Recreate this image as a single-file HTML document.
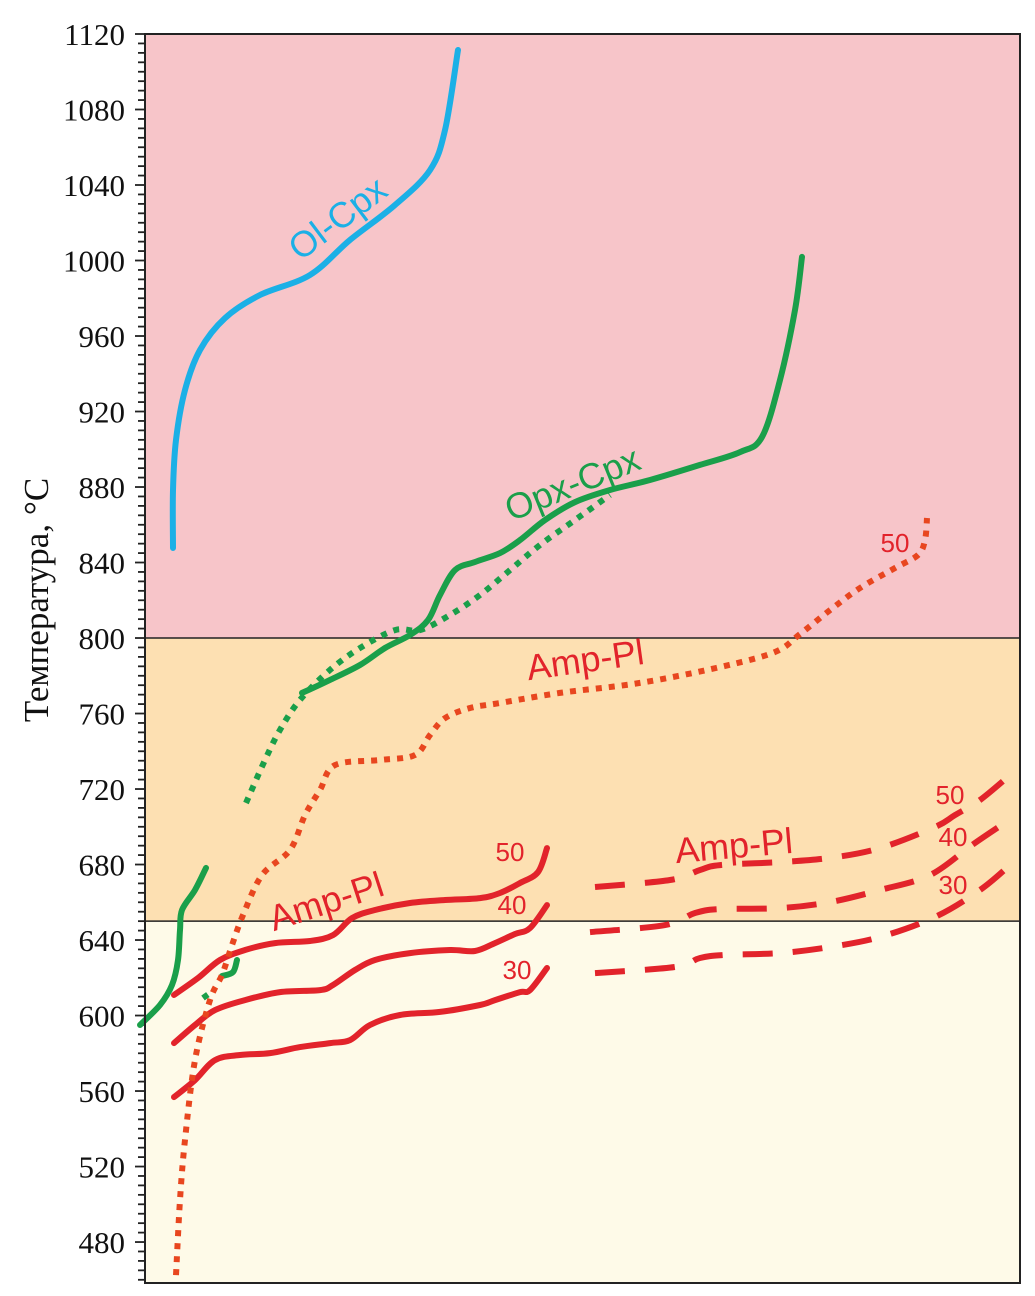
<!DOCTYPE html>
<html><head><meta charset="utf-8"><style>
html,body{margin:0;padding:0;background:#fff;}
svg{display:block;}
</style></head><body>
<svg id="chart" width="1035" height="1296" xmlns="http://www.w3.org/2000/svg"></svg>
<script>
// Y ticks
const yTickValues = [480,520,560,600,640,680,720,760,800,840,880,920,960,1000,1040,1080,1120];
// Field bands (temperature ranges)
const bandLow = [458, 650, 800];
const bandHigh = [650, 800, 1120];
// Series: x (arbitrary position units), T (°C)
const olCpxX = [28,28,31,40,55,80,115,165,205,250,285,300,313];
const olCpxT = [847.7,878.4,904.9,931.4,952.6,969.5,981.7,992.3,1010.9,1029.4,1047.9,1069.1,1111.5];
const opxCpxX = [157,185,215,240,265,283,295,310,330,355,375,400,430,465,505,555,595,617,635,650,657];
const opxCpxT = [770.9,777.8,785.7,794.7,801.6,809.5,822.8,836.0,840.3,845.0,851.9,862.5,872.0,878.4,883.7,891.7,898.5,906.5,936.7,973.8,1001.9];
const opxDotX = [101,120,135,155,185,215,250,275,305,335,365,395,430,465];
const opxDotT = [712.6,735.4,751.3,767.2,783.1,794.7,804.2,804.2,812.2,822.8,836.0,849.3,862.5,875.8];
const greenLowX = [-5,15,27,33,35,37,50,61];
const greenLowT = [595.0,605.6,616.2,629.4,645.3,655.9,666.5,678.2];
const greenHookX = [77,88,92];
const greenHookT = [620.9,623.0,629.4];
const greenDotsX = [58,69];
const greenDotsT = [609.3,613.5];
const ampDotX = [31,35,40,50,65,77,87,98,117,145,160,175,190,235,270,285,300,325,355,415,495,575,630,655,685,715,750,773,780,782];
const ampDotT = [462.5,502.3,534.1,576.4,608.2,621.5,637.3,653.2,674.4,687.7,706.2,719.5,732.7,735.4,738.0,748.6,757.6,762.9,765.6,770.9,776.2,784.6,792.6,802.1,814.8,826.5,837.1,844.0,851.9,863.6];
const red50X = [29,53,75,100,130,165,188,207,230,265,300,335,355,375,393,402];
const red50T = [610.9,619.9,629.4,634.7,638.4,639.5,642.6,651.6,655.9,659.6,661.2,662.2,664.9,670.2,676.0,688.7];
const red40X = [29,50,70,100,135,175,188,210,230,265,305,330,350,370,385,402];
const red40T = [585.4,595.0,602.9,608.2,612.4,613.5,616.2,624.1,629.4,633.1,634.7,634.2,638.4,643.2,646.3,658.5];
const red30X = [29,50,70,95,125,155,185,205,225,255,295,335,350,375,385,402];
const red30T = [556.8,565.8,576.4,579.1,580.1,583.3,585.4,587.0,595.0,600.3,601.9,605.6,608.2,612.4,613.5,625.2];
const dash50X = [450,525,555,575,635,685,735,790,810,835,865];
const dash50T = [668.1,671.8,677.1,679.7,681.3,683.5,688.7,699.9,706.2,714.2,727.4];
const dash40X = [445,520,550,575,635,685,735,785,827,861];
const dash40T = [644.2,647.9,654.3,656.4,656.9,660.1,666.5,674.4,690.3,702.5];
const dash30X = [450,530,555,580,635,685,735,790,835,865];
const dash30T = [622.5,625.7,630.5,632.1,633.1,636.3,641.6,652.2,666.5,679.7];

const NS = 'http://www.w3.org/2000/svg';
const svg = document.getElementById('chart');
const L = 145, R = 1020, T0 = 34, B = 1283;
const tMin = 458.3, tMax = 1120;
function sx(v){ return L + v * (R - L) / 875; }
function sy(t){ return B - (t - tMin) * (B - T0) / (tMax - tMin); }
function mk(tag, attrs){ const e = document.createElementNS(NS, tag); for (const k in attrs) e.setAttribute(k, attrs[k]); svg.appendChild(e); return e; }

const bandColors = ['#fefae8', '#fde0b2', '#f7c5c9'];
const bandNames = ['band-below-650', 'band-650-800', 'band-above-800'];
for (let i = 0; i < bandLow.length; i++) {
  const r = mk('rect', {x: L, y: sy(bandHigh[i]), width: R - L, height: sy(bandLow[i]) - sy(bandHigh[i]), fill: bandColors[i]});
  
  
}
[650, 800].forEach(v => {
  const ln = mk('line', {x1: L, x2: R, y1: sy(v), y2: sy(v), stroke: '#222', 'stroke-width': 1.5});
  
  
});

// ticks
for (let v = 460; v <= 1120; v += 5) {
  const major = (v % 40 === 0);
  const tk = mk('line', {x1: L - (major ? 10 : 7), x2: L, y1: sy(v), y2: sy(v), stroke: '#222', 'stroke-width': 1.8});
  
  
}
yTickValues.forEach(v => {
  const t = mk('text', {x: 125, y: sy(v) + 11, 'text-anchor': 'end', 'font-family': 'Liberation Serif, serif', 'font-size': 31, fill: '#111'});
  t.textContent = v;
  
  
});

function line(xs, ts, color, name, dash, w){
  const px = xs.map(sx), py = ts.map(sy);
  let d = 'M' + px[0].toFixed(1) + ',' + py[0].toFixed(1);
  for (let i = 0; i < px.length - 1; i++) {
    const x0 = px[Math.max(i-1,0)], y0 = py[Math.max(i-1,0)];
    const x3 = px[Math.min(i+2,px.length-1)], y3 = py[Math.min(i+2,px.length-1)];
    const c1x = px[i] + (px[i+1]-x0)/6, c1y = py[i] + (py[i+1]-y0)/6;
    const c2x = px[i+1] - (x3-px[i])/6, c2y = py[i+1] - (y3-py[i])/6;
    d += 'C' + c1x.toFixed(1) + ',' + c1y.toFixed(1) + ' ' + c2x.toFixed(1) + ',' + c2y.toFixed(1) + ' ' + px[i+1].toFixed(1) + ',' + py[i+1].toFixed(1);
  }
  const a = {d: d, fill: 'none', stroke: color, 'stroke-width': w || 6, 'stroke-linejoin': 'round', 'stroke-linecap': dash ? 'butt' : 'round'};
  if (dash) a['stroke-dasharray'] = dash;
  const p = mk('path', a);
  
  
}
const BLUE = '#1bb0e6', GREEN = '#1a9f4a', RED = '#e2232b', ORANGE = '#e8461f';
line(olCpxX, olCpxT, BLUE, 'ol-cpx-curve');
line(opxDotX, opxDotT, GREEN, 'opx-cpx-dotted-curve', '6 7');
line(opxCpxX, opxCpxT, GREEN, 'opx-cpx-curve');
line(greenLowX, greenLowT, GREEN, 'green-low-curve');
line(greenHookX, greenHookT, GREEN, 'green-hook-curve');
line(greenDotsX, greenDotsT, GREEN, 'green-low-dots', '6 7');
line(red50X, red50T, RED, 'amp-pl-50-curve');
line(red40X, red40T, RED, 'amp-pl-40-curve');
line(red30X, red30T, RED, 'amp-pl-30-curve');
line(ampDotX, ampDotT, ORANGE, 'amp-pl-dotted-curve', '6 7');
line(dash50X, dash50T, RED, 'amp-pl-dashed-50', '30 20');
line(dash40X, dash40T, RED, 'amp-pl-dashed-40', '30 20');
line(dash30X, dash30T, RED, 'amp-pl-dashed-30', '30 20');

function label(txt, x, y, color, size, rot, name){
  const t = mk('text', {x: x, y: y, fill: color, 'font-family': 'Liberation Sans, sans-serif', 'font-size': size, 'text-anchor': 'middle', transform: 'rotate(' + rot + ' ' + x + ' ' + y + ')'});
  t.textContent = txt;
  
  
}
label('Ol-Cpx', 345, 228, BLUE, 36, -37, 'ol-cpx-label');
label('Opx-Cpx', 577, 495, GREEN, 36, -22, 'opx-cpx-label');
label('Amp-Pl', 587, 672, RED, 36, -8, 'amp-pl-dotted-label');
label('Amp-Pl', 330, 913, RED, 36, -18, 'amp-pl-solid-label');
label('Amp-Pl', 735, 858, RED, 36, -5, 'amp-pl-dashed-label');
label('50', 895, 552, RED, 26, 0, 'isoline-50-dotted');
label('50', 510, 861, RED, 26, 0, 'isoline-50-solid');
label('40', 512, 914, RED, 26, 0, 'isoline-40-solid');
label('30', 517, 979, RED, 26, 0, 'isoline-30-solid');
label('50', 950, 804, RED, 26, 0, 'isoline-50-dashed');
label('40', 953, 846, RED, 26, 0, 'isoline-40-dashed');
label('30', 953, 894, RED, 26, 0, 'isoline-30-dashed');

const fr = mk('rect', {x: L, y: T0, width: R - L, height: B - T0, fill: 'none', stroke: '#222', 'stroke-width': 2});



const yt = mk('text', {x: 48, y: 600, 'text-anchor': 'middle', 'font-family': 'Liberation Serif, serif', 'font-size': 35, fill: '#111', transform: 'rotate(-90 48 600)'});
yt.textContent = 'Температура, °C';


</script>
</body></html>
